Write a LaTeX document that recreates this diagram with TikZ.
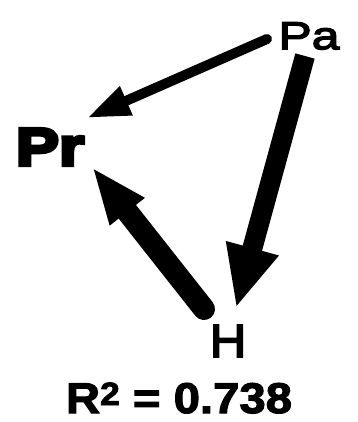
\documentclass[tikz,border=0pt]{standalone}
\usepackage{fontspec}
\setmainfont{Liberation Sans}
\usetikzlibrary{arrows.meta}
\newfontface\paface{Liberation Sans}[FakeStretch=1.28,FakeBold=3.5]
\newfontface\prface{Liberation Sans Bold}[FakeStretch=1.22,FakeBold=7]
\newfontface\hface{Liberation Sans}[FakeStretch=1.08,FakeBold=3.5]
\newfontface\rface{Liberation Sans Bold}[FakeStretch=1.1,FakeBold=2.5]
\newfontface\rsupface{Liberation Sans Bold}[Scale=0.75,FakeStretch=1.1,FakeBold=2.5]
\begin{document}
\begin{tikzpicture}[x=1pt,y=-1pt,
  lbl/.style={inner sep=0pt,outer sep=0pt},
  arrA/.style={line width=10pt,line cap=round,-{Triangle[length=43pt,width=29pt]}},
  arrB/.style={line width=20pt,line cap=butt,-{Triangle[length=62pt,width=50pt]}},
  arrC/.style={line width=22pt,line cap=round,-{Triangle[length=57pt,width=40pt]}}]
\fill[white] (0,0) rectangle (357,422);
\useasboundingbox (0,0) rectangle (357,422);
\node[lbl] (Pa) at (309,36) {\paface\fontsize{39}{40}\selectfont Pa};
\node[lbl] (Pr) at (50,147) {\prface\fontsize{53}{54}\selectfont Pr};
\node[lbl] (H) at (228,341) {\hface\fontsize{47}{48}\selectfont H};
\node[lbl] (R) at (179,398) {\fontsize{43}{44}\rface R\raisebox{8pt}{\rsupface 2} = 0.738};
\draw[arrA] ([shift={(-42,3)}]Pa.center) -- ([shift={(37,-29)}]Pr.center);
\draw[arrB] ([shift={(-4,20)}]Pa.center) -- ([shift={(8,-33)}]H.center);
\draw[arrC] ([shift={(-24,-32)}]H.center) -- ([shift={(42,20)}]Pr.center);
\end{tikzpicture}
\end{document}
